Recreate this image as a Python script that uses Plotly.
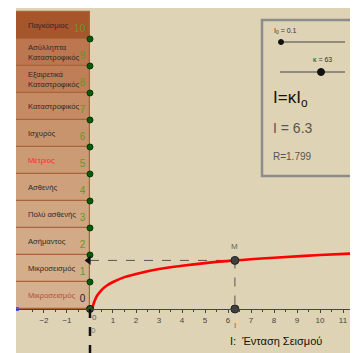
import plotly.graph_objects as go

# magnitude scale bands shown on the left
levels = [0, 1, 2, 3, 4, 5, 6, 7, 8, 9, 10]
labels = ["Μικροσεισμός", "Μικροσεισμός", "Ασήμαντος", "Πολύ ασθενής", "Ασθενής",
          "Μέτριος", "Ισχυρός", "Καταστροφικός", "Εξαιρετικά<br>Καταστροφικός",
          "Ασύλληπτα<br>Καταστροφικός", "Παγκόσμιος"]
band_colors = ["#D5B08E", "#D4AD8B", "#D2AA87", "#D0A682", "#CEA17C", "#CB9B76",
               "#C8946E", "#C58B64", "#C07E58", "#BC7650", "#A7552A"]
label_colors = ["#B0503A", "#2A2A2A", "#2A2A2A", "#2A2A2A", "#2A2A2A", "#FF2A2A",
                "#2A2A2A", "#2A2A2A", "#2A2A2A", "#2A2A2A", "#2A2A2A"]
level_text_colors = ["#222222"] + ["#5E9A2A"] * 10

# R = log(I/I0) curve
intensity = [0.1, 0.12, 0.15, 0.2, 0.3, 0.5, 0.75, 1, 1.5, 2, 3, 4, 5, 6.3, 8, 10, 12]
magnitude = [0, 0.08, 0.18, 0.30, 0.48, 0.70, 0.88, 1.0, 1.18, 1.30, 1.48, 1.60, 1.70,
             1.80, 1.90, 2.0, 2.08]

I0 = 0.1
kappa = 63
I_val = 6.3
R_val = 1.799

FONT = "Liberation Sans, Arial, sans-serif"
X_RANGE = [-3.217, 11.652]
Y_RANGE = [-1.63, 11.148]

# the page body adds 8px around the figure, so the plot area sits at
# window pixels x 16..358, y 8..353
def px(x):
    return (x - 16) / 342


def py(y):
    return (353 - y) / 345


fig = go.Figure()

# bands
fig.add_trace(go.Bar(
    y=[l + 0.5 for l in levels], x=[3.4] * len(levels), base=-3.4,
    orientation="h", width=1,
    marker=dict(color=band_colors, line=dict(color="#A8653A", width=1.2)),
    hoverinfo="skip", showlegend=False))

for l, t, c in zip(levels, labels, label_colors):
    fig.add_annotation(xref="x", yref="y", x=-2.8, y=l + 0.5, text=t,
                       showarrow=False, xanchor="left", yanchor="middle", align="left",
                       font=dict(family=FONT, size=7.6, color=c))

# level points on the y axis
fig.add_trace(go.Scatter(
    x=[0] * len(levels), y=levels, mode="markers+text",
    text=[str(l) for l in levels], textposition="top left",
    textfont=dict(family=FONT, size=10, color=level_text_colors),
    marker=dict(color="#0A5A0A", size=6, line=dict(color="#063806", width=1)),
    hoverinfo="skip", showlegend=False))

# helper lines to M
fig.add_trace(go.Scatter(
    x=[0, I_val, I_val], y=[R_val, R_val, 0], mode="lines",
    line=dict(color="#555555", width=1, dash="dash"),
    hoverinfo="skip", showlegend=False))

# curve
fig.add_trace(go.Scatter(
    x=intensity, y=magnitude, mode="lines", line_shape="spline",
    line=dict(color="#FF0000", width=2.6),
    hoverinfo="skip", showlegend=False))

# points
fig.add_trace(go.Scatter(
    x=[I_val, I_val], y=[R_val, 0], mode="markers",
    marker=dict(color="#404040", size=8, line=dict(color="#222222", width=1)),
    hoverinfo="skip", showlegend=False))
fig.add_trace(go.Scatter(
    x=[0], y=[0], mode="markers",
    marker=dict(color="#1E5A1E", size=7, line=dict(color="#111111", width=1)),
    hoverinfo="skip", showlegend=False))
fig.add_trace(go.Scatter(
    x=[-0.06], y=[R_val], mode="markers",
    marker=dict(color="#111111", size=8, symbol="triangle-left"),
    hoverinfo="skip", showlegend=False))
fig.add_trace(go.Scatter(
    x=[X_RANGE[0] + 0.04], y=[0], mode="markers",
    marker=dict(color="#4A5AD8", size=4, symbol="square"),
    hoverinfo="skip", showlegend=False))

# dashed axis below origin
fig.add_shape(type="line", xref="x", yref="y", x0=0, x1=0, y0=0, y1=Y_RANGE[0],
              line=dict(color="#111111", width=2.5, dash="dash"))

# point labels
ann = [
    dict(x=I_val, y=R_val + 0.5, text="M", font=dict(size=8, color="#666666")),
    dict(x=I_val, y=-0.62, text="I", font=dict(size=8, color="#666666")),
    dict(x=0.18, y=-0.3, text="0", font=dict(size=8, color="#555555")),
    dict(x=0.16, y=-0.78, text="0", font=dict(size=8, color="#777777")),
    dict(x=6.0, y=-1.19, text="I:  Ένταση Σεισμού", xanchor="left",
         font=dict(size=11, color="#111111")),
]
for a in ann:
    a.setdefault("xanchor", "center")
    fig.add_annotation(xref="x", yref="y", showarrow=False, yanchor="middle",
                       font_family=FONT, **a)

# control box
fig.add_shape(type="rect", xref="paper", yref="paper",
              x0=px(262), x1=px(352), y0=py(176), y1=py(20),
              line=dict(color="#8C8C8C", width=2.5))
fig.add_shape(type="line", xref="paper", yref="paper",
              x0=px(281), x1=px(345), y0=py(42), y1=py(42),
              line=dict(color="#444444", width=1.2))
fig.add_shape(type="line", xref="paper", yref="paper",
              x0=px(280), x1=px(345), y0=py(72), y1=py(72),
              line=dict(color="#444444", width=1.2))
fig.add_shape(type="circle", xref="paper", yref="paper",
              x0=px(278.5), x1=px(283.5), y0=py(44.5), y1=py(39.5),
              fillcolor="#111111", line=dict(color="#111111", width=1))
fig.add_shape(type="circle", xref="paper", yref="paper",
              x0=px(317.5), x1=px(324.5), y0=py(75.5), y1=py(68.5),
              fillcolor="#111111", line=dict(color="#111111", width=1))

box_text = [
    (272, 31, f"I<sub>0</sub> = {I0}", 7, "#333333"),
    (311, 59, f"κ = {kappa}", 7, "#333333"),
    (271, 99, "I=κI<sub>o</sub>", 17, "#111111"),
    (271, 128, f"I = {I_val}", 14, "#555555"),
    (271, 156, f"R={R_val}", 10, "#555555"),
]
for x, y, t, s, c in box_text:
    fig.add_annotation(xref="paper", yref="paper", x=px(x), y=py(y), text=t,
                       showarrow=False, xanchor="left", yanchor="middle",
                       font=dict(family=FONT, size=s, color=c))

fig.update_layout(
    width=350, height=345,
    margin=dict(l=8, r=0, t=0, b=0, autoexpand=False),
    paper_bgcolor="white", plot_bgcolor="#DED3B4",
    font=dict(family=FONT),
    xaxis=dict(range=X_RANGE, anchor="free",
               position=(0 - Y_RANGE[0]) / (Y_RANGE[1] - Y_RANGE[0]),
               showline=True, linecolor="#444444", linewidth=1,
               showgrid=False, zeroline=False,
               tickvals=[-2, -1] + list(range(1, 12)),
               ticks="outside", ticklen=3, tickcolor="#444444",
               tickfont=dict(size=8, color="#444444"),
               minor=dict(tickvals=[i + 0.5 for i in range(-3, 12)], ticks="outside",
                          ticklen=2, tickcolor="#444444"),
               fixedrange=True),
    yaxis=dict(range=Y_RANGE, visible=False, fixedrange=True),
    bargap=0,
)

fig.write_html("out.html")
